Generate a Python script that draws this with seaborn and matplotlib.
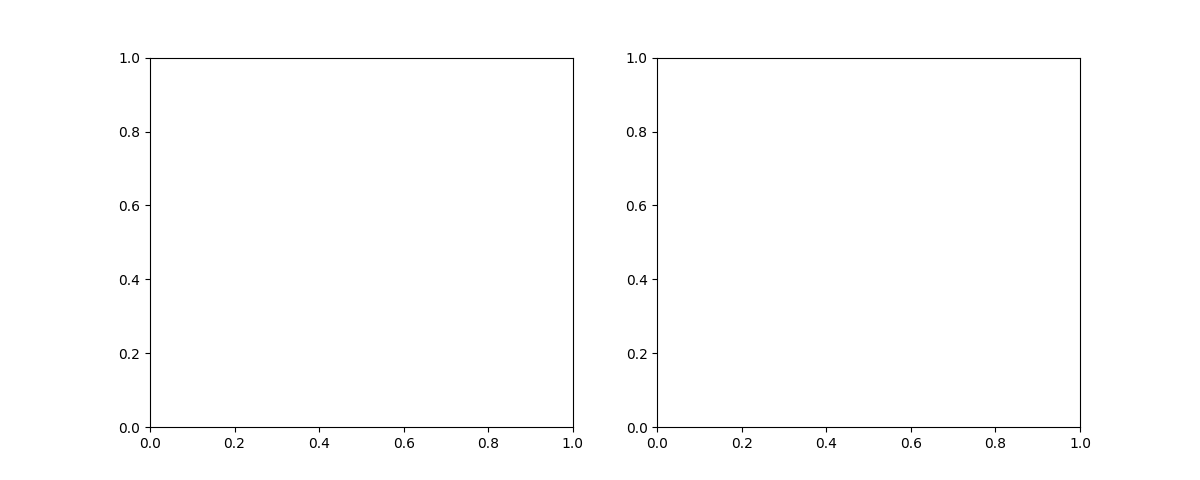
import matplotlib
matplotlib.use("Agg")
import matplotlib.pyplot as plt
import seaborn as sns
import pandas as pd

# The reference shows two empty panels (no data series).
panel_names = ["left", "right"]
x_values = []
y_values = []

fig, axes = plt.subplots(1, 2, figsize=(12, 4.8), dpi=100)
for ax, name in zip(axes, panel_names):
    df = pd.DataFrame({"x": pd.Series(x_values, dtype=float),
                       "y": pd.Series(y_values, dtype=float)})
    if len(df):
        sns.lineplot(data=df, x="x", y="y", ax=ax)
    ax.set_xlim(0, 1)
    ax.set_ylim(0, 1)
    ax.set_xlabel("")
    ax.set_ylabel("")

fig.savefig("out.png", dpi=100)
